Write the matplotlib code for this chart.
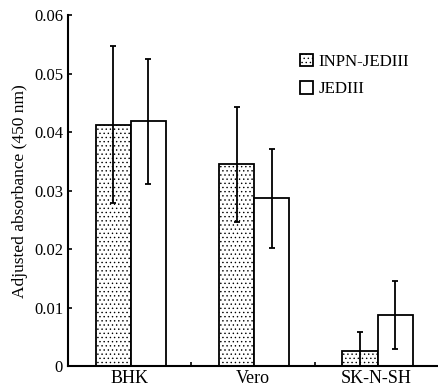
import matplotlib
matplotlib.use("Agg")
import matplotlib.pyplot as plt
import numpy as np

cells = ["BHK", "Vero", "SK-N-SH"]
inpn = [0.0413, 0.0345, 0.0026]
inpn_err = [0.0134, 0.0098, 0.0033]
jed = [0.0419, 0.0287, 0.0087]
jed_err = [0.0107, 0.0085, 0.0058]
series = ["INPN-JEDIII", "JEDIII"]

plt.rcParams['font.family'] = ['Liberation Serif', 'DejaVu Serif']
plt.rcParams['hatch.color'] = '#b4b4b4'
plt.rcParams['hatch.linewidth'] = 0.5

fig = plt.figure(figsize=(4.38, 3.87), dpi=100)
ax = fig.add_axes([0.155, 0.054, 0.845, 0.906])

x = np.arange(len(cells))
w = 0.285
b1 = ax.bar(x - w/2 + 0.01, inpn, w, color='white', edgecolor='black', linewidth=1.3,
            hatch='....', label=series[0])
b2 = ax.bar(x + w/2 + 0.01, jed, w, color='white', edgecolor='black', linewidth=1.3,
            label=series[1])
ax.errorbar(x - w/2 + 0.01, inpn, yerr=inpn_err, fmt='none', ecolor='black',
            elinewidth=1.3, capsize=2, capthick=1.3)
ax.errorbar(x + w/2 + 0.01, jed, yerr=jed_err, fmt='none', ecolor='black',
            elinewidth=1.3, capsize=2, capthick=1.3)

ax.set_xlim(-0.5, 2.5)
ax.set_ylim(0, 0.06)
ax.set_yticks([0, 0.01, 0.02, 0.03, 0.04, 0.05, 0.06])
ax.set_yticklabels(["0", "0.01", "0.02", "0.03", "0.04", "0.05", "0.06"])
ax.set_xticks(x)
ax.set_xticklabels(cells)
ax.set_xticks([0.5, 1.5], minor=True)
ax.tick_params(axis='x', which='major', length=0, labelsize=13, pad=3)
ax.tick_params(axis='x', which='minor', direction='in', length=3, width=1.2)
ax.tick_params(axis='y', direction='in', length=3, width=1.2, labelsize=12)

for s in ['top', 'right']:
    ax.spines[s].set_visible(False)
for s in ['left', 'bottom']:
    ax.spines[s].set_linewidth(1.5)

ax.set_ylabel("Adjusted absorbance (450 nm)", fontsize=12.5, labelpad=4)
ax.legend(loc='upper left', bbox_to_anchor=(0.585, 0.935), frameon=False, fontsize=12.2,
          handlelength=0.8, handleheight=0.8, handletextpad=0.3, labelspacing=0.65)

fig.savefig("out.png", dpi=100)
